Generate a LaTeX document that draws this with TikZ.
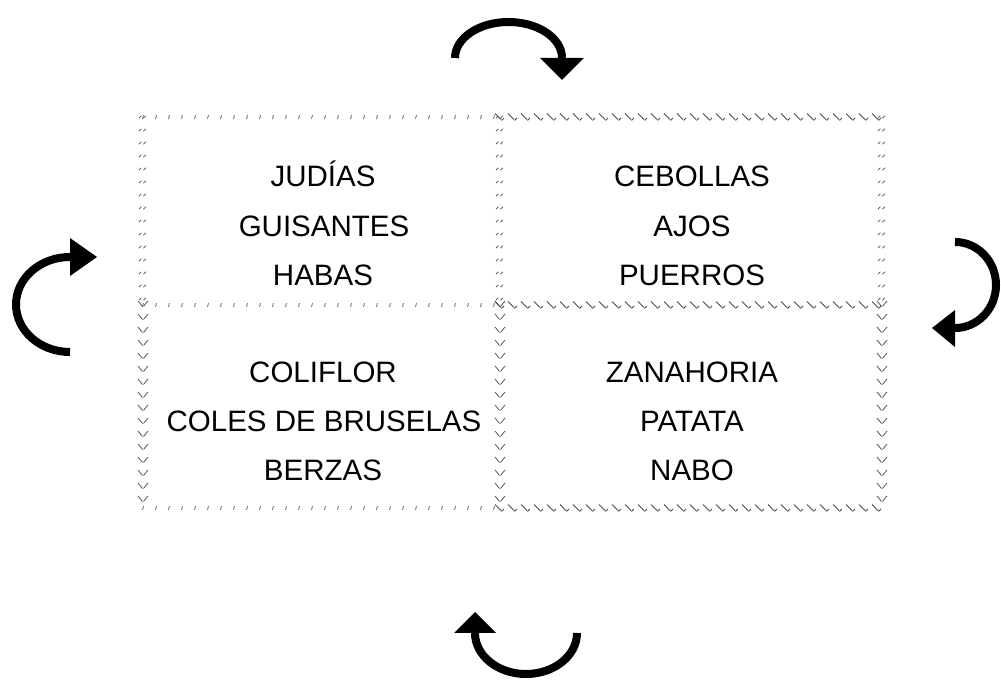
\documentclass[tikz,border=0pt]{standalone}
\usepackage{fontspec}
\setmainfont{Liberation Sans}
\usetikzlibrary{decorations.markings}
\begin{document}
\begin{tikzpicture}[x=1pt,y=1pt,
  lbl/.style={anchor=base, inner sep=0pt, font=\fontsize{29.5}{35}\selectfont},
  rot/.style={line width=8pt},
  headtip/.style={fill=black},
  markcol/.style={draw=black!70, line width=0.75pt},
  tickedge/.style={postaction={decorate,decoration={markings, mark=between positions 0 and 1 step 13pt with {\pgftransformresetnontranslations \draw[markcol] (-0.4,-1.8)--(0.4,1.8);}}}},
  dslashedge/.style={postaction={decorate,decoration={markings, mark=between positions 0 and 1 step 13pt with {\pgftransformresetnontranslations \draw[markcol] (-4,-1.2)--(-1.6,1.2) (0.4,-1.2)--(2.8,1.2);}}}},
  bslashedge/.style={postaction={decorate,decoration={markings, mark=between positions 0 and 1 step 13pt with {\pgftransformresetnontranslations \draw[markcol] (-5,3.5)--(1,-2.5) (1.5,-3.5)--(4,-1);}}}},
  veeedge/.style={postaction={decorate,decoration={markings, mark=between positions 0 and 1 step 13pt with {\pgftransformresetnontranslations \draw[markcol] (-5,4)--(-0.5,-1.5) (0.5,-1.5)--(5,4);}}}},
]
\useasboundingbox (0,0) rectangle (1001,682);
% grid corners
\coordinate (A) at (143,565);
\coordinate (B) at (500,565);
\coordinate (C) at (882,565);
\coordinate (D) at (143,377);
\coordinate (E) at (500,377);
\coordinate (F) at (882,377);
\coordinate (G) at (143,174);
\coordinate (H) at (500,174);
\coordinate (I) at (882,174);
% borders
\path[tickedge] (A) -- (B);
\path[tickedge] (D) -- (E);
\path[tickedge] (G) -- (H);
\path[bslashedge] (B) -- (C);
\path[bslashedge] (E) -- (F);
\path[bslashedge] (H) -- (I);
\path[dslashedge] (A) -- (D);
\path[dslashedge] (B) -- (E);
\path[dslashedge] (C) -- (F);
\path[veeedge] (D) -- (G);
\path[veeedge] (E) -- (H);
\path[veeedge] (F) -- (I);
% texts
\node[lbl] (t1) at (323,495.5) {JUDÍAS};
\node[lbl] (t2) at (324,445.5) {GUISANTES};
\node[lbl] (t3) at (323,396.5) {HABAS};
\node[lbl] (t4) at (692,495.5) {CEBOLLAS};
\node[lbl] (t5) at (692,445.5) {AJOS};
\node[lbl] (t6) at (692,396.5) {PUERROS};
\node[lbl] (t7) at (323,299.6) {COLIFLOR};
\node[lbl] (t8) at (324,250.6) {COLES DE BRUSELAS};
\node[lbl] (t9) at (323,201.6) {BERZAS};
\node[lbl] (t10) at (692,299.6) {ZANAHORIA};
\node[lbl] (t11) at (692,250.6) {PATATA};
\node[lbl] (t12) at (692,201.6) {NABO};
% rotation arrows
\coordinate (topS) at (455,624);
\draw[rot] (topS) arc[start angle=180,end angle=0,x radius=53.5,y radius=36];
\fill[headtip] (540,624) -- (584,624) -- (562,602) -- cycle;
\coordinate (leftS) at (70,330);
\draw[rot] (leftS) arc[start angle=270,end angle=90,x radius=54,y radius=47.5];
\fill[headtip] (70,444) -- (70,406) -- (97,425) -- cycle;
\coordinate (rightS) at (955,440);
\draw[rot] (rightS) arc[start angle=90,end angle=-90,x radius=41,y radius=43];
\fill[headtip] (955,372) -- (955,335) -- (932,354) -- cycle;
\coordinate (botS) at (577,49);
\draw[rot] (botS) arc[start angle=0,end angle=-180,x radius=51,y radius=41];
\fill[headtip] (454,49) -- (496,49) -- (475,70) -- cycle;
\end{tikzpicture}
\end{document}
